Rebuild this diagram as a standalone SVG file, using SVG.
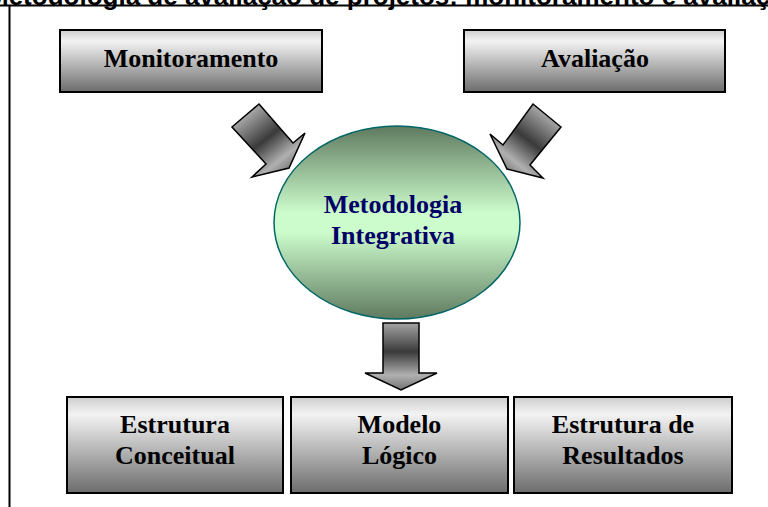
<svg xmlns="http://www.w3.org/2000/svg" width="768" height="507" viewBox="0 0 768 507">
<style>
.frame{stroke:#000;stroke-width:2;fill:none}
.title{font-family:"Liberation Sans",Arial,sans-serif;font-weight:bold;font-size:26px;fill:#000}
.box{fill:url(#boxGrad);stroke:#000;stroke-width:2}
.lbl{font-family:"Liberation Serif","Times New Roman",serif;font-weight:bold;font-size:26px;fill:#000;text-anchor:middle}
.elbl{font-family:"Liberation Serif","Times New Roman",serif;font-weight:bold;font-size:26px;fill:#000066;text-anchor:middle}
.arrow{stroke:#000;stroke-width:1.5;stroke-linejoin:miter}
</style>
<defs>
<linearGradient id="boxGrad" x1="0" y1="0" x2="0" y2="1">
<stop offset="0" stop-color="#cdcdcd"/>
<stop offset="0.18" stop-color="#f3f3f3"/>
<stop offset="1" stop-color="#6c6c6c"/>
</linearGradient>
<linearGradient id="ellGrad" x1="0" y1="0" x2="0" y2="1">
<stop offset="0" stop-color="#5f7a5f"/>
<stop offset="0.45" stop-color="#ccfccc"/>
<stop offset="0.55" stop-color="#ccfccc"/>
<stop offset="1" stop-color="#5f7a5f"/>
</linearGradient>
<linearGradient id="downGrad" gradientUnits="userSpaceOnUse" x1="0" y1="323" x2="0" y2="390">
<stop offset="0" stop-color="#a4a4a4"/>
<stop offset="0.43" stop-color="#3a3a3a"/>
<stop offset="0.78" stop-color="#b0b0b0"/>
<stop offset="1" stop-color="#727272"/>
</linearGradient>
<linearGradient id="leftGrad" gradientUnits="userSpaceOnUse" x1="246" y1="116" x2="290" y2="172">
<stop offset="0" stop-color="#a4a4a4"/>
<stop offset="0.43" stop-color="#3a3a3a"/>
<stop offset="0.78" stop-color="#b0b0b0"/>
<stop offset="1" stop-color="#727272"/>
</linearGradient>
<linearGradient id="rightGrad" gradientUnits="userSpaceOnUse" x1="547" y1="116" x2="503" y2="172">
<stop offset="0" stop-color="#a4a4a4"/>
<stop offset="0.43" stop-color="#3a3a3a"/>
<stop offset="0.78" stop-color="#b0b0b0"/>
<stop offset="1" stop-color="#727272"/>
</linearGradient>
</defs>
<rect width="768" height="507" fill="#fff"/>
<text class="title" x="-13" y="5">Metodologia de avaliação de projetos: monitoramento e avaliação</text>
<path class="frame" d="M0 5.5 H768 M9.5 5.5 V507"/>

<g id="connectors">
<polygon class="arrow" fill="url(#leftGrad)" points="259,104 293,143 305,133 289,168 252,177 266,164 232,127"/>
<polygon class="arrow" fill="url(#rightGrad)" points="533,104 561,127 530,165 543,178 507,169 490,134 503,145"/>
<polygon class="arrow" fill="url(#downGrad)" points="383,323 419,323 419,373 437,373 401,390 365,373 383,373"/>
</g>

<g id="monitoramento">
<rect class="box" x="60" y="30" width="262" height="62"/>
<text class="lbl" x="191" y="67">Monitoramento</text>
</g>
<g id="avaliacao">
<rect class="box" x="464" y="30" width="261" height="62"/>
<text class="lbl" x="595" y="67">Avaliação</text>
</g>
<g id="metodologia">
<ellipse cx="397" cy="222.5" rx="123" ry="96.5" fill="url(#ellGrad)" stroke="#006666" stroke-width="1.5"/>
<text class="elbl" x="393" y="213">Metodologia</text>
<text class="elbl" x="393" y="244">Integrativa</text>
</g>
<g id="estrutura-conceitual">
<rect class="box" x="67" y="397" width="216" height="96"/>
<text class="lbl" x="175" y="433">Estrutura</text>
<text class="lbl" x="175" y="464">Conceitual</text>
</g>
<g id="modelo-logico">
<rect class="box" x="291" y="397" width="217" height="96"/>
<text class="lbl" x="399.5" y="433">Modelo</text>
<text class="lbl" x="399.5" y="464">Lógico</text>
</g>
<g id="estrutura-resultados">
<rect class="box" x="514" y="397" width="218" height="96"/>
<text class="lbl" x="623" y="433">Estrutura de</text>
<text class="lbl" x="623" y="464">Resultados</text>
</g>
</svg>
